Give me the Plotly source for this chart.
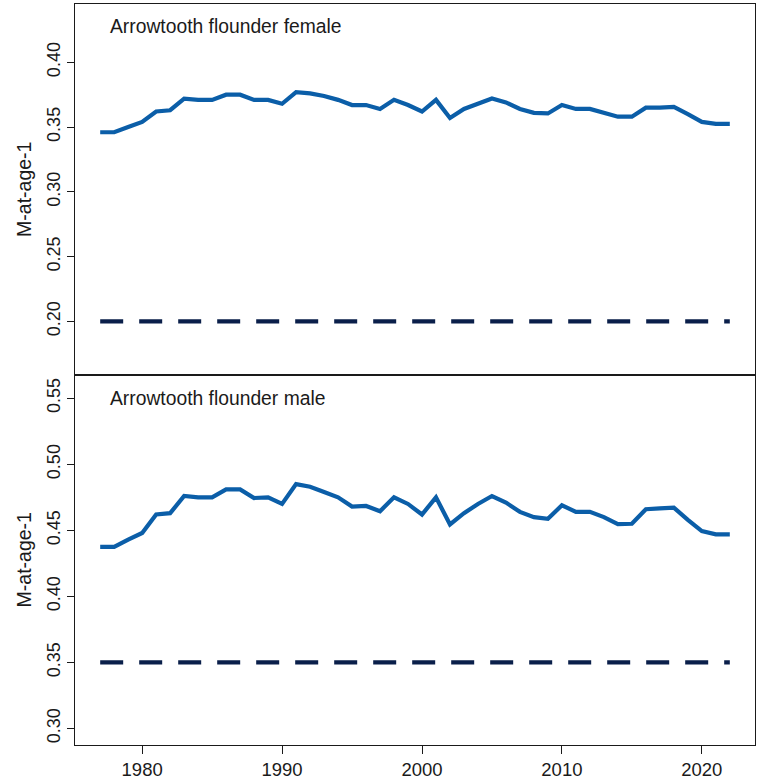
import plotly.graph_objects as go

# Natural mortality at age 1 by year, arrowtooth flounder
years = list(range(1977, 2023))

m_female = [0.346, 0.346, 0.350, 0.354, 0.362, 0.363, 0.372, 0.371, 0.371, 0.375,
            0.375, 0.371, 0.371, 0.368, 0.377, 0.376, 0.374, 0.371, 0.367, 0.367,
            0.364, 0.371, 0.367, 0.362, 0.371, 0.357, 0.364, 0.368, 0.372, 0.369,
            0.364, 0.361, 0.3605, 0.367, 0.364, 0.364, 0.361, 0.358, 0.358, 0.365,
            0.365, 0.3655, 0.360, 0.354, 0.3525, 0.3525]

m_male = [0.4375, 0.4375, 0.443, 0.448, 0.462, 0.463, 0.476, 0.475, 0.475, 0.481,
          0.481, 0.4745, 0.475, 0.470, 0.485, 0.483, 0.479, 0.475, 0.468, 0.4685,
          0.4645, 0.475, 0.470, 0.462, 0.475, 0.4545, 0.463, 0.470, 0.476, 0.471,
          0.464, 0.460, 0.4587, 0.469, 0.464, 0.464, 0.460, 0.4547, 0.455, 0.466,
          0.4667, 0.4672, 0.458, 0.4494, 0.447, 0.447]

# Fixed reference mortality for each sex
m_base_female = [0.20] * len(years)
m_base_male = [0.35] * len(years)

panel_titles = ["Arrowtooth flounder female", "Arrowtooth flounder male"]

blue = "#0b5ea8"
navy = "#0a1f4a"
font_family = "Liberation Sans, Arial, sans-serif"

fig = go.Figure()

for i, (est, base) in enumerate([(m_female, m_base_female), (m_male, m_base_male)]):
    xa = "x" if i == 0 else "x2"
    ya = "y" if i == 0 else "y2"
    fig.add_trace(go.Scatter(x=years, y=base, mode="lines", xaxis=xa, yaxis=ya,
                             line=dict(color=navy, width=4.2, dash="23px,16px"),
                             showlegend=False, hoverinfo="skip"))
    fig.add_trace(go.Scatter(x=years, y=est, mode="lines", xaxis=xa, yaxis=ya,
                             line=dict(color=blue, width=4.2),
                             showlegend=False))

x_range = [1975.2, 2023.8]
axis_common = dict(showline=True, mirror=True, linecolor="#1a1a1a", linewidth=1.3,
                   showgrid=False, zeroline=False)

fig.update_layout(
    width=757, height=781,
    margin=dict(l=75, r=1, t=4, b=32),
    plot_bgcolor="white", paper_bgcolor="white",
    font=dict(family=font_family, size=18, color="#1a1a1a"),
    xaxis=dict(domain=[0, 1], range=x_range, anchor="y", showticklabels=False,
               ticks="", **axis_common),
    yaxis=dict(domain=[0.5, 1], range=[0.159, 0.445], anchor="x",
               tickvals=[0.20, 0.25, 0.30, 0.35, 0.40],
               ticktext=["0.20", "0.25", "0.30", "0.35", "0.40"],
               ticks="outside", ticklen=7, tickwidth=1.2, tickcolor="#1a1a1a",
               tickangle=-90, tickfont=dict(size=18),
               title=dict(text="M-at-age-1", font=dict(size=19.5), standoff=6),
               **axis_common),
    xaxis2=dict(domain=[0, 1], range=x_range, anchor="y2",
                tickvals=[1980, 1990, 2000, 2010, 2020],
                ticks="outside", ticklen=8, tickwidth=1.2, tickcolor="#1a1a1a",
                tickfont=dict(size=18.5), **axis_common),
    yaxis2=dict(domain=[0, 0.5], range=[0.2875, 0.568], anchor="x2",
                tickvals=[0.30, 0.35, 0.40, 0.45, 0.50, 0.55],
                ticktext=["0.30", "0.35", "0.40", "0.45", "0.50", "0.55"],
                ticks="outside", ticklen=7, tickwidth=1.2, tickcolor="#1a1a1a",
                tickangle=-90, tickfont=dict(size=18),
                title=dict(text="M-at-age-1", font=dict(size=19.5), standoff=6),
                **axis_common),
)

fig.add_annotation(text=panel_titles[0], xref="x", yref="y domain",
                   x=1977.55, y=0.938, xanchor="left", yanchor="middle",
                   showarrow=False, font=dict(size=19.3))
fig.add_annotation(text=panel_titles[1], xref="x2", yref="y2 domain",
                   x=1977.55, y=0.936, xanchor="left", yanchor="middle",
                   showarrow=False, font=dict(size=19.3))

fig.write_html("out.html")
